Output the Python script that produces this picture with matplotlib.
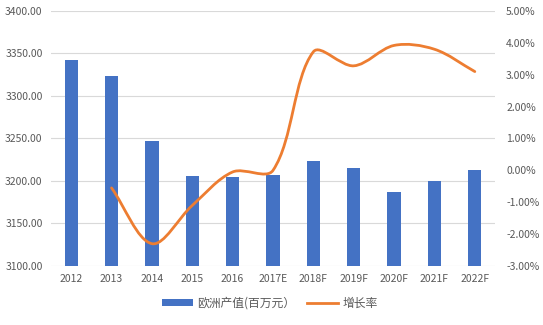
import matplotlib
matplotlib.use('Agg')
import matplotlib.pyplot as plt
from matplotlib.path import Path
from matplotlib.patches import PathPatch, Patch
from matplotlib.lines import Line2D

plt.rcParams['font.family'] = ['Noto Sans CJK SC', 'DejaVu Sans']

# data
years = ['2012', '2013', '2014', '2015', '2016', '2017E', '2018F', '2019F', '2020F', '2021F', '2022F']
output = [3342, 3323.5, 3247, 3206, 3205, 3207, 3223.5, 3215, 3187.5, 3200.5, 3213]
growth_years = years[1:]
growth = [-0.55, -2.3, -1.1, -0.05, 0.0, 3.72, 3.28, 3.92, 3.8, 3.1]

bar_color = '#4472C4'
line_color = '#ED7D31'
text_color = '#595959'

fig = plt.figure(figsize=(5.43, 3.25), dpi=100)
ax = fig.add_axes([51 / 543, 1 - 266 / 325, 444 / 543, 255 / 325])
ax2 = ax.twinx()

x = list(range(len(years)))
ax.bar(x, output, width=0.33, color=bar_color, zorder=2)
ax.set_ylim(3100, 3400)
ax.set_yticks([3100 + 50 * i for i in range(7)])
ax.set_yticklabels(['%.2f' % v for v in ax.get_yticks()])
ax.set_xlim(-0.5, len(years) - 0.5)
ax.set_xticks(x)
ax.set_xticklabels(years)
ax.grid(axis='y', color='#D9D9D9', linewidth=0.8, zorder=0)
ax.set_axisbelow(True)
ax2.set_ylim(-3, 5)
ax2.set_yticks(range(-3, 6))
ax2.set_yticklabels(['%.2f%%' % v for v in range(-3, 6)])

# smoothed line, control arms scaled by segment length in pixel space
sx, sy = 40.4, 31.9
gx = [years.index(y) for y in growth_years]
P = [(a * sx, b * sy) for a, b in zip(gx, growth)]
n = len(P)


def dist(a, b):
    return ((a[0] - b[0]) ** 2 + (a[1] - b[1]) ** 2) ** 0.5


out_c, in_c = [], []
for i in range(n):
    prv = P[i - 1] if i > 0 else P[i]
    nxt = P[i + 1] if i < n - 1 else P[i]
    tx, ty = nxt[0] - prv[0], nxt[1] - prv[1]
    d0 = dist(prv, P[i])
    d1 = dist(P[i], nxt)
    tot = d0 + d1
    k_out = d1 / tot / 1.5 if tot else 0
    k_in = d0 / tot / 1.5 if tot else 0
    out_c.append((P[i][0] + tx * k_out / 2, P[i][1] + ty * k_out / 2))
    in_c.append((P[i][0] - tx * k_in / 2, P[i][1] - ty * k_in / 2))

verts = [P[0]]
codes = [Path.MOVETO]
for i in range(n - 1):
    verts += [out_c[i], in_c[i + 1], P[i + 1]]
    codes += [Path.CURVE4] * 3
verts = [(a / sx, b / sy) for a, b in verts]
ax2.add_patch(PathPatch(Path(verts, codes), facecolor='none', edgecolor=line_color,
                        linewidth=2.0, capstyle='round', zorder=3))

for a in (ax, ax2):
    for s in a.spines.values():
        s.set_visible(False)
    a.tick_params(length=0, colors=text_color, labelsize=7.5)
ax.tick_params(axis='x', pad=6)
ax.tick_params(axis='y', pad=6)
ax2.tick_params(axis='y', pad=8)

handles = [Patch(facecolor=bar_color), Line2D([0], [0], color=line_color, linewidth=2)]
fig.legend(handles, ['欧洲产值(百万元）', '增长率'], loc='center',
           bbox_to_anchor=(270 / 543, 1 - 303 / 325),
           ncol=2, frameon=False, fontsize=8.5, labelcolor=text_color,
           handlelength=2.6, handleheight=0.6, columnspacing=1.0, handletextpad=0.4)

fig.savefig('out.png', dpi=100)
